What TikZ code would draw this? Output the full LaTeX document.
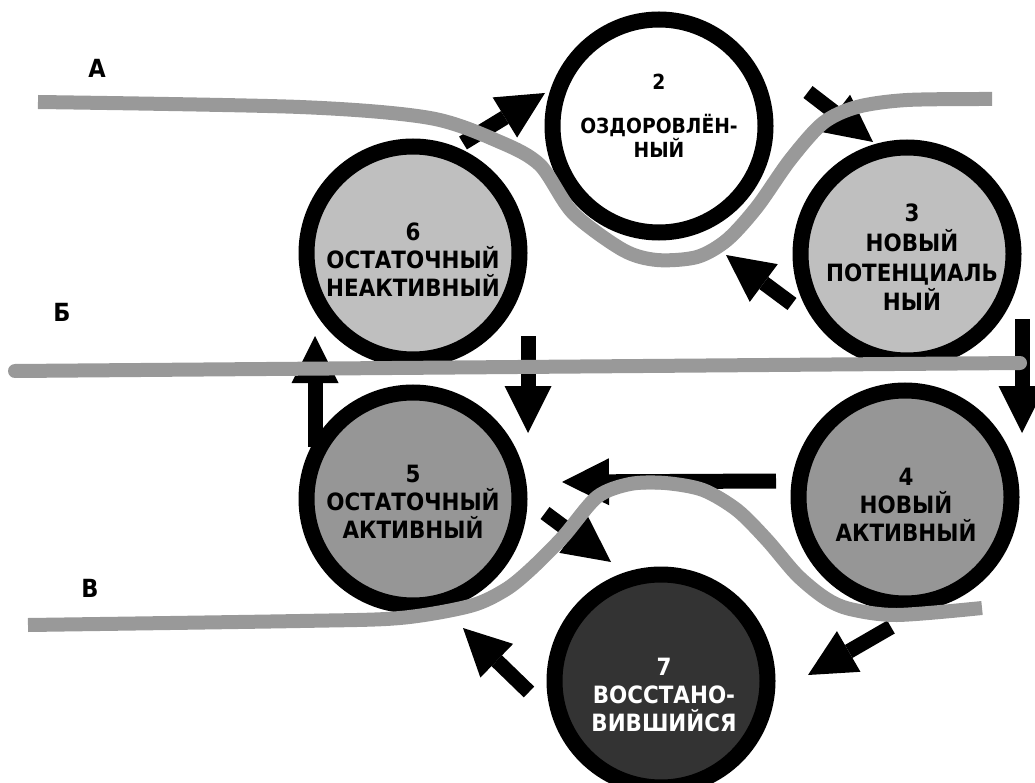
\documentclass[tikz,border=0pt]{standalone}
\usepackage{fontspec}
\setmainfont{DejaVu Sans}[FakeStretch=0.9]
\usetikzlibrary{arrows.meta}
\definecolor{bandgray}{gray}{0.6}
\definecolor{lgray}{gray}{0.75}
\definecolor{mgray}{gray}{0.59}
\definecolor{dgray}{gray}{0.2}
\begin{document}
\begin{tikzpicture}[x=1pt,y=-1pt,
  circ/.style={circle, draw=black, line width=16pt, minimum size=213pt, inner sep=0pt},
  txt/.style={font=\bfseries\fontsize{23.8}{28}\selectfont, align=center, inner sep=0pt},
  lbl/.style={font=\bfseries\fontsize{25}{28}\selectfont, inner sep=0pt},
  flow/.style={line width=15pt, -{Triangle[length=47pt,width=47pt,line width=0pt]}},
  band/.style={draw=bandgray, line width=14pt}]
\useasboundingbox (0,0) rectangle (1035,783);

% states
\node[circ, fill=white] (c2) at (659,126) {};
\node[circ, fill=lgray] (c3) at (907,254) {};
\node[circ, fill=mgray] (c4) at (905,497) {};
\node[circ, fill=mgray] (c5) at (413,499) {};
\node[circ, fill=lgray] (c6) at (413,253) {};
\node[circ, fill=dgray] (c7) at (661,681) {};

\node[txt, font=\bfseries\fontsize{20.8}{24}\selectfont] (t2) at (659,116) {2\\[20pt]ОЗДОРОВЛЁН-\\НЫЙ};
\node[txt, font=\bfseries\fontsize{23.8}{29.7}\selectfont] (t3) at (912,257.5) {3\\НОВЫЙ\\ПОТЕНЦИАЛЬ\\НЫЙ};
\node[txt] (t4) at (906,505) {4\\НОВЫЙ\\АКТИВНЫЙ};
\node[txt] (t5) at (413,501.5) {5\\ОСТАТОЧНЫЙ\\АКТИВНЫЙ};
\node[txt] (t6) at (413,259.5) {6\\ОСТАТОЧНЫЙ\\НЕАКТИВНЫЙ};
\node[txt, text=white] (t7) at (664,695) {7\\ВОССТАНО-\\ВИВШИЙСЯ};

% level labels
\node[lbl] (lA) at (97,68) {А};
\node[lbl] (lB) at (62,312) {Б};
\node[lbl] (lV) at (90,588) {В};

% arrow end points
\coordinate (a1s) at (463,143); \coordinate (a1e) at (545,93);
\coordinate (a2s) at (808,92);  \coordinate (a2e) at (873,142);
\coordinate (a3s) at (792,304); \coordinate (a3e) at (726,255);
\coordinate (a4s) at (1022,319); \coordinate (a4e) at (1022,433);
\coordinate (a5s) at (528,336); \coordinate (a5e) at (528,433);
\coordinate (a6s) at (315,447); \coordinate (a6e) at (315,336);
\coordinate (a7s) at (776,481); \coordinate (a7e) at (562,482);
\coordinate (a8s) at (545,513); \coordinate (a8e) at (611,562);
\coordinate (a9s) at (891,627); \coordinate (a9e) at (808,675);
\coordinate (a10s) at (529,692); \coordinate (a10e) at (463,628);

\draw[flow] (a1s) -- (a1e);
\draw[flow] (a2s) -- (a2e);
\draw[flow] (a3s) -- (a3e);
\draw[flow] (a4s) -- (a4e);
\draw[flow] (a5s) -- (a5e);
\draw[flow] (a6s) -- (a6e);
\draw[flow] (a7s) -- (a7e);
\draw[flow] (a8s) -- (a8e);
\draw[flow] (a9s) -- (a9e);
\draw[flow] (a10s) -- (a10e);

% bands
\draw[band] plot[smooth, tension=0.5] coordinates {(38,102) (300,107) (430,118) (500,142) (540,165) (573,213) (623,250) (657,260) (697,257) (727,240) (757,207) (790,160) (823,123) (857,107) (907,100) (992,99)};
\draw[band, line cap=round] (15,371) -- (1020,363);
\draw[band] plot[smooth, tension=0.5] coordinates {(28,625) (300,621) (400,618) (470,606) (505,590) (530,570) (563,537) (597,497) (630,484) (665,483) (703,490) (737,510) (767,540) (797,575) (825,598) (850,609) (897,615) (982,608)};
\end{tikzpicture}
\end{document}
